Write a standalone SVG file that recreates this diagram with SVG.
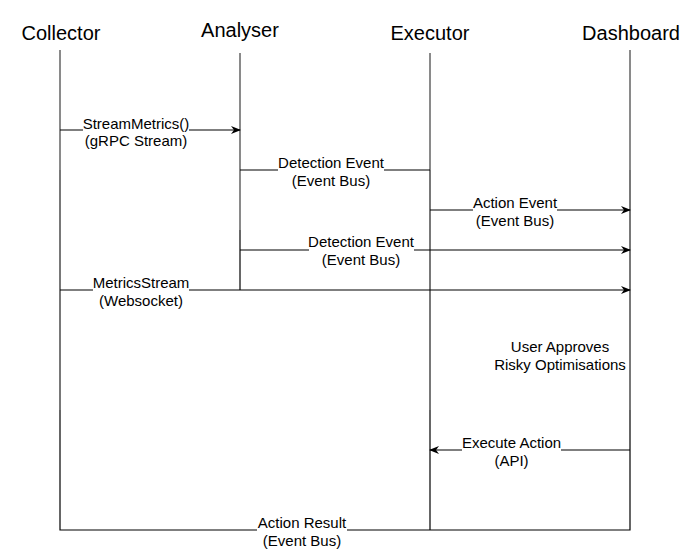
<svg xmlns="http://www.w3.org/2000/svg" width="700" height="559" viewBox="0 0 700 559">
<style>
text{font-family:"Liberation Sans",Arial,sans-serif;fill:#000}
.hd{font-size:20px;text-anchor:middle}
.lb{font-size:15px;text-anchor:middle}
.life{stroke:#8a8a8a;stroke-width:2;fill:none}
.ov{stroke:#666;stroke-width:1;fill:none}
.ln{stroke:#000;stroke-width:1.2;fill:none}
.bg{fill:#fff}
</style>
<defs>
<marker id="arr" viewBox="0 0 10 10" refX="9" refY="5" markerWidth="10" markerHeight="10" markerUnits="userSpaceOnUse" orient="auto">
<path d="M0,1 L10,5 L0,9 L3,5 Z" fill="#000"/>
</marker>
</defs>
<rect width="700" height="559" fill="#fff"/>
<g id="collector"><text class="hd" x="61" y="40">Collector</text><line class="life" x1="60" y1="50" x2="60" y2="410"/></g>
<g id="analyser"><text class="hd" x="240" y="37">Analyser</text><line class="life" x1="240" y1="53" x2="240" y2="230"/></g>
<g id="executor"><text class="hd" x="430" y="40">Executor</text><line class="life" x1="430" y1="53" x2="430" y2="410"/></g>
<g id="dashboard"><text class="hd" x="631" y="40">Dashboard</text><line class="life" x1="630" y1="50" x2="630" y2="410"/></g>
<g id="connectors">
<line class="ov" x1="60" y1="170" x2="60" y2="410"/>
<line class="ov" x1="430" y1="170" x2="430" y2="410"/>
<line class="ov" x1="630" y1="170" x2="630" y2="410"/>
<line class="ln" x1="60" y1="130" x2="240" y2="130" marker-end="url(#arr)"/>
<line class="ln" x1="240" y1="170" x2="430" y2="170"/>
<line class="ln" x1="430" y1="210" x2="630" y2="210" marker-end="url(#arr)"/>
<line class="ln" x1="240" y1="250" x2="630" y2="250" marker-end="url(#arr)"/>
<line class="ln" x1="240" y1="230" x2="240" y2="290"/>
<line class="ln" x1="60" y1="290" x2="630" y2="290" marker-end="url(#arr)"/>
<line class="ln" x1="630" y1="450" x2="430" y2="450" marker-end="url(#arr)"/>
<path class="ln" d="M60,410 L60,530 L630,530 L630,410 M430,410 L430,530"/>
<rect class="bg" x="83" y="116" width="106" height="34"/>
<text class="lb" x="136" y="129">StreamMetrics()</text>
<text class="lb" x="136" y="146">(gRPC Stream)</text>
<rect class="bg" x="278" y="156" width="106" height="34"/>
<text class="lb" x="331" y="168">Detection Event</text>
<text class="lb" x="331" y="186">(Event Bus)</text>
<rect class="bg" x="473" y="196" width="84" height="34"/>
<text class="lb" x="515" y="208">Action Event</text>
<text class="lb" x="515" y="226">(Event Bus)</text>
<rect class="bg" x="309" y="236" width="105" height="34"/>
<text class="lb" x="361" y="247">Detection Event</text>
<text class="lb" x="361" y="265">(Event Bus)</text>
<rect class="bg" x="93" y="276" width="96" height="34"/>
<text class="lb" x="141" y="288">MetricsStream</text>
<text class="lb" x="141" y="306">(Websocket)</text>
<text class="lb" x="560" y="352">User Approves</text>
<text class="lb" x="560" y="370">Risky Optimisations</text>
<rect class="bg" x="462" y="436" width="99" height="34"/>
<text class="lb" x="511.5" y="448">Execute Action</text>
<text class="lb" x="511.5" y="466">(API)</text>
<rect class="bg" x="257" y="516" width="90" height="34"/>
<text class="lb" x="302" y="528">Action Result</text>
<text class="lb" x="302" y="546">(Event Bus)</text>
</g>
</svg>
